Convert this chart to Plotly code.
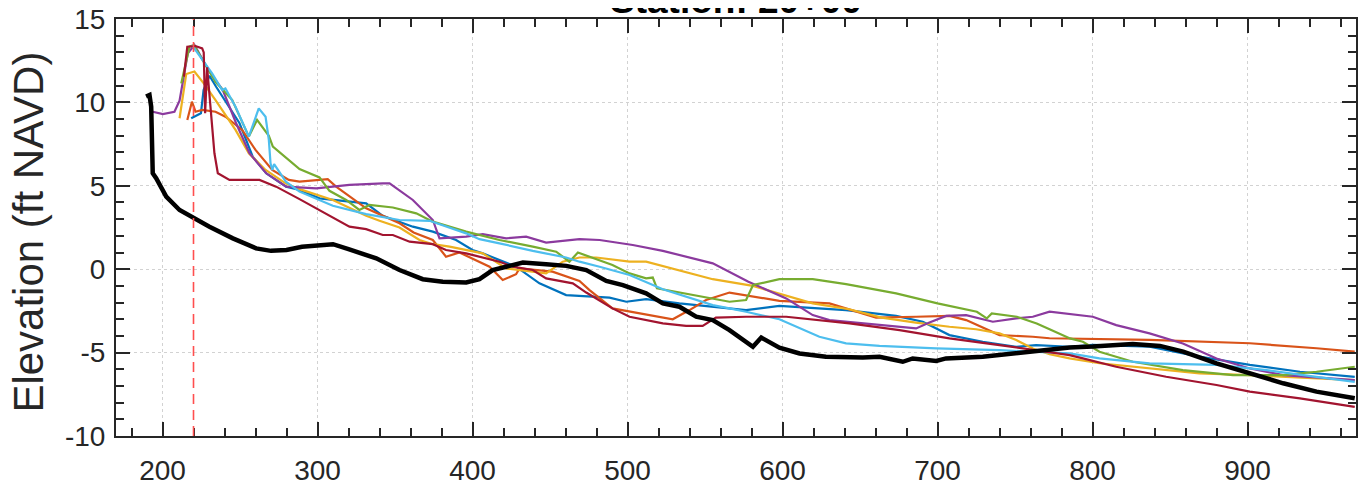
import plotly.graph_objects as go

# ---------------- data ----------------
title_text = "Station: 20+00"
y_label = "Elevation (ft NAVD)"
ref_station = 220

x_tick_vals = [200, 300, 400, 500, 600, 700, 800, 900]
x_tick_text = ["200", "300", "400", "500", "600", "700", "800", "900"]
y_tick_vals = [-10, -5, 0, 5, 10, 15]
y_tick_text = ["-10", "-5", "0", "5", "10", "15"]

black_x = [189.4, 191.6, 192.7, 193.7, 195.9, 202.4, 211, 220.6, 230.3, 245.4, 260.4, 270, 280, 290, 300, 310,
           320, 337.9, 352.9, 367.9, 380.8, 395.9, 404.5, 413, 421.7, 432.5, 447.5, 460.5, 473.4, 486.3, 497,
           512, 522.8, 533.5, 544.3, 555, 565.8, 580.9, 586.3, 598, 611, 619.5, 628, 651.8, 662.6, 677.6, 684,
           699.2, 705.5, 729.2, 761.5, 785.2, 800.2, 826, 843.5, 858.5, 880, 901.5, 923, 944.5, 969.2]
black_y = [10.35, 10.44, 9.74, 5.75, 5.45, 4.35, 3.55, 3.05, 2.55, 1.85, 1.25, 1.1, 1.15, 1.35, 1.45, 1.5,
           1.2, 0.65, -0.05, -0.6, -0.75, -0.8, -0.6, -0.05, 0.15, 0.4, 0.3, 0.2, -0.05, -0.7, -0.95,
           -1.45, -2.05, -2.25, -2.85, -3.05, -3.65, -4.65, -4.1, -4.7, -5.05, -5.15, -5.25, -5.3, -5.25, -5.55, -5.35,
           -5.5, -5.35, -5.25, -4.95, -4.7, -4.64, -4.48, -4.6, -4.94, -5.64, -6.24, -6.84, -7.34, -7.74]

blue_x = [218.5, 224.8, 226.5, 230.3, 234.6, 249.7, 258.2, 266.9, 279.8, 288.4, 301.3, 320.6, 331.4, 342.1,
          361.5, 374.4, 389.4, 400, 406.6, 428.1, 443.2, 460.4, 477.6, 488.4, 499.2, 512, 533.5, 555, 576.5,
          598, 641, 673.3, 690.5, 697, 707.7, 729.2, 750.8, 763.6, 785.2, 800.2, 836.8, 869, 901.5, 933.8, 969.2]
blue_y = [9.05, 9.35, 10.74, 11.6, 10.94, 8.75, 6.75, 5.75, 4.95, 4.75, 4.25, 4.05, 3.95, 3.2,
          2.55, 2.25, 1.75, 1.15, 0.95, 0.15, -0.85, -1.55, -1.65, -1.7, -1.95, -1.8, -2.05, -2.25, -2.45,
          -2.2, -2.45, -2.8, -3.15, -3.45, -3.95, -4.35, -4.65, -4.55, -4.65, -4.54, -4.64, -5.24, -5.74, -6.15, -6.45]

orange_x = [216, 219, 221.3, 225.6, 234.2, 240.6, 251.4, 260, 270.8, 281.5, 288.4, 306.6, 312, 331.4, 352.9,
            362, 374.4, 382.9, 391.6, 411, 419.5, 428.1, 430.3, 451.6, 469, 475.5, 490.3, 512, 529.2, 540,
            550.7, 565.8, 580.9, 598, 630.3, 643.2, 660.4, 686.2, 707.7, 718.5, 729.2, 740, 761.5, 772.3,
            836.8, 901.5, 944.5, 969.2]
orange_y = [8.95, 10.04, 9.44, 9.55, 9.44, 9.14, 8.35, 7.15, 5.95, 5.35, 5.25, 5.4, 4.95, 3.65, 2.75,
            2.2, 1.75, 0.75, 1.0, 0.15, -0.65, -0.3, 0.05, -0.15, -0.7, -1.25, -2.35, -2.7, -3.0, -2.45,
            -1.85, -1.4, -1.65, -1.9, -2.05, -2.4, -2.9, -2.85, -2.8, -3.05, -3.5, -3.95, -4.05, -4.14,
            -4.24, -4.44, -4.74, -4.94]

yellow_x = [211, 215.3, 220.6, 226.6, 234.2, 247.1, 255.7, 266.5, 279.4, 288.4, 309.9, 331.4, 340, 352.9,
            365.8, 374.4, 385.2, 406.6, 421.7, 447.5, 458.2, 469, 479.8, 501.3, 512, 555, 580.9, 598, 619.5,
            643, 664, 686, 707.7, 724.9, 740, 750.8, 761.5, 772.3, 785.2, 804.5, 836.8, 869, 901.5, 944.5, 969.2]
yellow_y = [9.05, 11.7, 11.85, 11.14, 10.14, 8.35, 6.95, 5.95, 5.15, 4.8, 4.15, 3.2, 2.9, 2.5,
            1.75, 1.5, 1.35, 0.95, 0.05, -0.25, 0.45, 0.7, 0.7, 0.45, 0.45, -0.6, -1.0, -1.45, -2.05,
            -2.4, -2.9, -3.2, -3.45, -3.6, -3.85, -4.25, -4.75, -5.1, -5.35, -5.64, -5.95, -6.25, -6.35, -6.55, -6.65]

purple_x = [193.7, 200.2, 207.7, 211, 216.3, 220.6, 230.3, 238.9, 247.5, 256.1, 266.9, 279.8, 299.2, 320.6,
            342.1, 346.5, 361.5, 374.4, 378.7, 395.9, 406.6, 421.7, 434.6, 447.5, 469, 482, 503.4, 522.8, 555,
            578, 602.4, 619.5, 630.3, 651.8, 673.3, 686.2, 694.8, 705.6, 718.5, 735.7, 750.8, 761.5, 772.3,
            800.2, 815.3, 836.8, 858.3, 880, 901.5, 923, 969.2]
purple_y = [9.44, 9.3, 9.44, 10.1, 12.94, 13.44, 11.84, 10.74, 8.75, 6.95, 5.75, 4.95, 4.85, 5.05,
            5.15, 5.15, 4.15, 2.95, 1.85, 1.95, 2.1, 1.85, 1.95, 1.6, 1.8, 1.75, 1.45, 1.1, 0.35,
            -0.75, -1.75, -2.75, -3.05, -3.25, -3.45, -3.55, -3.2, -2.8, -2.75, -3.15, -2.95, -2.85, -2.55,
            -2.85, -3.35, -3.85, -4.45, -5.35, -5.95, -6.35, -6.65]

green_x = [212.1, 217.4, 220.2, 234.2, 245, 255.7, 261, 268.6, 271.2, 283.7, 288.4, 301.3, 307.7, 318.5,
           327, 333.5, 348.6, 363.7, 374.4, 395.9, 417.4, 438.9, 454, 462.5, 468, 490.3, 501.3, 512, 516.3,
           519, 544.3, 565.8, 576.5, 581, 598, 619.5, 641, 673.3, 700, 714.6, 725.4, 731.8, 735, 751.2, 764,
           772.3, 785.5, 793.8, 804.5, 826, 858.3, 890.6, 923, 944.5, 969.2]
green_y = [11.14, 13.34, 13.44, 11.24, 10.14, 7.95, 8.95, 8.0, 7.35, 6.35, 6.0, 5.5, 4.7, 4.15,
           3.55, 3.85, 3.7, 3.35, 2.85, 2.25, 1.75, 1.35, 1.05, 0.45, 1.0, 0.25, -0.25, -0.55, -0.5,
           -1.15, -1.6, -1.95, -1.85, -0.95, -0.6, -0.6, -0.9, -1.45, -2.05, -2.35, -2.55, -2.95, -2.65, -2.85, -3.25,
           -3.6, -4.15, -4.35, -4.95, -5.55, -6.05, -6.35, -6.35, -6.15, -5.85]

cyan_x = [219, 232, 238.5, 240.6, 247.1, 255.7, 262.1, 266.5, 268.6, 269.7, 270.8, 272, 279.6, 288.4, 309.9,
          331.4, 352.9, 372.3, 395.9, 404.5, 417.4, 438.9, 460.4, 469, 482, 501.3, 522.8, 544.3, 555, 565.8,
          576.5, 598, 608.8, 623.8, 641, 662.6, 699.2, 740, 761.5, 785.2, 804.5, 836.8, 880, 912.3, 944.5, 969.2]
cyan_y = [13.44, 11.74, 10.74, 10.84, 9.74, 7.95, 9.64, 9.14, 7.75, 6.35, 5.95, 6.3, 5.25, 4.65, 3.8,
          3.3, 2.95, 2.9, 2.15, 1.8, 1.55, 1.1, 0.7, 0.45, 0.15, -0.35, -1.2, -1.85, -2.15, -2.35,
          -2.55, -3.0, -3.45, -4.05, -4.45, -4.6, -4.75, -4.85, -4.95, -5.05, -5.35, -5.64, -5.74, -6.05, -6.45, -6.75]

darkred_x = [213.8, 216, 221.3, 225.6, 226.6, 227.5, 228.8, 233.5, 235.7, 243.2, 262.6, 273.3, 288.4, 309.9,
             320.6, 331.4, 342.1, 348.6, 359.4, 374.4, 382.9, 395.9, 404.5, 417.4, 425.9, 438.9, 447.5, 458.2,
             464.7, 473.4, 490.3, 501.3, 522.8, 537.8, 548.5, 557, 576.5, 602.4, 630.3, 643.2, 675.5, 707.7,
             740, 761.5, 785.2, 793.8, 815.3, 847.5, 880, 901.5, 933.8, 969.2]
darkred_y = [11.55, 13.34, 13.38, 13.24, 13.0, 9.35, 12.1, 6.95, 5.75, 5.35, 5.35, 4.95, 4.2, 3.1,
             2.55, 2.4, 2.05, 2.05, 1.65, 1.5, 1.15, 0.95, 0.75, 0.45, 0.15, -0.05, -0.55, -0.75,
             -0.85, -1.4, -2.35, -2.85, -3.25, -3.4, -3.4, -2.9, -2.85, -2.85, -3.1, -3.25, -3.65, -4.15,
             -4.55, -4.85, -5.15, -5.35, -5.85, -6.45, -6.94, -7.34, -7.74, -8.25]

series = [
    ("blue", blue_x, blue_y, "#0072BD"),
    ("orange", orange_x, orange_y, "#D95319"),
    ("yellow", yellow_x, yellow_y, "#EDB120"),
    ("purple", purple_x, purple_y, "#8B3A9E"),
    ("green", green_x, green_y, "#77AC30"),
    ("cyan", cyan_x, cyan_y, "#4DBEEE"),
    ("darkred", darkred_x, darkred_y, "#A2142F"),
]

# ---------------- figure ----------------
FONT = "Liberation Sans, Arial, sans-serif"
AX = "#262626"

fig = go.Figure()
for name, xs, ys, col in series:
    fig.add_trace(go.Scatter(x=xs, y=ys, mode="lines", name=name,
                             line=dict(color=col, width=2.2), showlegend=False))
fig.add_trace(go.Scatter(x=black_x, y=black_y, mode="lines", name="profile",
                         line=dict(color="black", width=4.5), showlegend=False))

fig.add_vline(x=ref_station, line=dict(color="#FF4F4F", width=1.6, dash="10px,6px"), layer="above")

axis_common = dict(
    showline=True, linecolor=AX, linewidth=2, mirror="allticks",
    ticks="inside", ticklen=14, tickwidth=2, tickcolor=AX,
    showgrid=True, gridcolor="#d2d2d2", griddash="dot", gridwidth=1.3,
    zeroline=False, automargin=False, ticklabeloverflow="allow",
    tickfont=dict(family=FONT, size=28, color=AX),
)

fig.update_xaxes(range=[170, 970], tickvals=x_tick_vals, ticktext=x_tick_text,
                 minor=dict(ticks="inside", ticklen=8, tickwidth=1.5, tickcolor=AX, dtick=20, tick0=0, showgrid=False),
                 ticklabelstandoff=8, **axis_common)
fig.update_yaxes(range=[-10, 15], tickvals=y_tick_vals, ticktext=y_tick_text,
                 minor=dict(ticks="inside", ticklen=8, tickwidth=1.5, tickcolor=AX, dtick=1, tick0=0, showgrid=False),
                 ticklabelstandoff=3, **axis_common)

fig.add_annotation(text=y_label, xref="paper", yref="paper", x=-0.0702, y=0.49,
                   xanchor="center", yanchor="middle", textangle=-90, showarrow=False,
                   font=dict(family=FONT, size=42, color=AX))
fig.add_annotation(text="<b>" + title_text + "</b>", xref="paper", yref="paper", x=0.5, y=0.990,
                   xanchor="center", yanchor="bottom", showarrow=False,
                   font=dict(family=FONT, size=37, color="black"))

# page body adds an 8px margin, so the figure is sized to the remaining area
fig.update_layout(
    width=1359, height=483,
    margin=dict(l=108, r=11, t=11, b=55),
    plot_bgcolor="white", paper_bgcolor="white",
    showlegend=False,
)

fig.write_html("out.html")
